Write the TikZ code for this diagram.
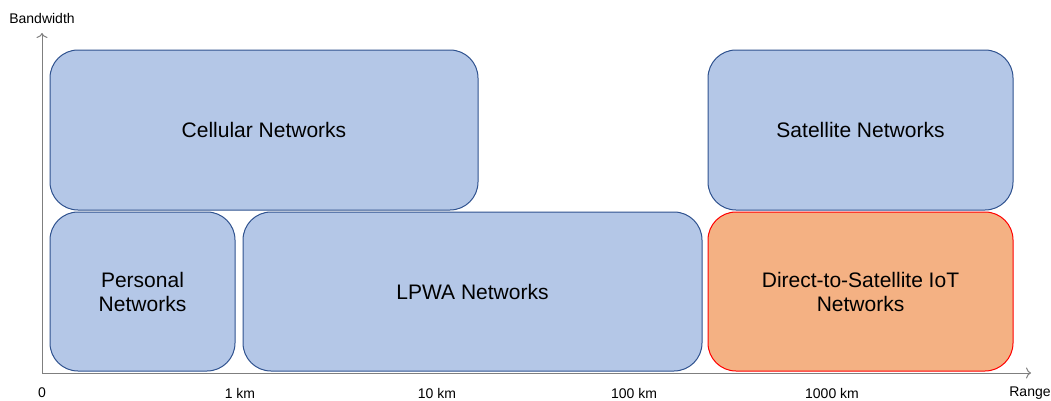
\documentclass[tikz,border=0pt]{standalone}
\usepackage{fontspec}
\setmainfont{Liberation Sans}
\usepackage{xcolor}
\usepackage{tikz}
\usetikzlibrary{positioning}
\usetikzlibrary{arrows.meta}
\definecolor{netblue}{RGB}{180,199,231}
\definecolor{netedge}{RGB}{47,82,143}
\definecolor{dtsorange}{RGB}{244,177,131}
\definecolor{axisgray}{RGB}{127,127,127}
\tikzset{netbox/.style={draw=netedge, fill=netblue, rounded corners=28pt, inner sep=0pt, line width=1pt, align=center, font=\fontsize{21}{24}\selectfont}}
\tikzset{dtsbox/.style={netbox, draw=red, fill=dtsorange}}
\tikzset{axislabel/.style={font=\fontsize{14}{16}\selectfont}}
\tikzset{axisline/.style={axisgray, line width=1pt, -{To[length=5pt, width=11pt]}}}

\begin{document}
\begin{tikzpicture}[x=1pt,y=1pt]
{
\useasboundingbox (0,0) rectangle (1051,400);
%axes
\coordinate (origin) at (42,27);
\coordinate (ytop) at (42,367);
\coordinate (xend) at (1031,27);
\draw[axisline] (origin) -- (ytop);
\draw[axisline] (origin) -- (xend);
\node[axislabel] (bw) at (42,382) {Bandwidth};
\node[axislabel] (range) at (1030,7) {Range};
\node[axislabel] (t0) at (42,7) {0};
\node[axislabel] (t1) at (240,7) {1 km};
\node[axislabel] (t10) at (437,7) {10 km};
\node[axislabel] (t100) at (634,7) {100 km};
\node[axislabel] (t1000) at (832,7) {1000 km};
%networks
\node[netbox, minimum width=428pt, minimum height=160pt] (cell) at (264,270) {Cellular Networks};
\node[netbox, minimum width=305pt, minimum height=160pt] (sat) at (860.5,270) {Satellite Networks};
\node[netbox, minimum width=185pt, minimum height=159pt] (pers) at (142.5,108.5) {Personal\\Networks};
\node[netbox, minimum width=459pt, minimum height=159pt] (lpwa) at (472.5,108.5) {LPWA Networks};
\node[dtsbox, minimum width=305pt, minimum height=159pt] (dts) at (860.5,108.5) {Direct-to-Satellite IoT\\Networks};
}
\end{tikzpicture}
\end{document}
